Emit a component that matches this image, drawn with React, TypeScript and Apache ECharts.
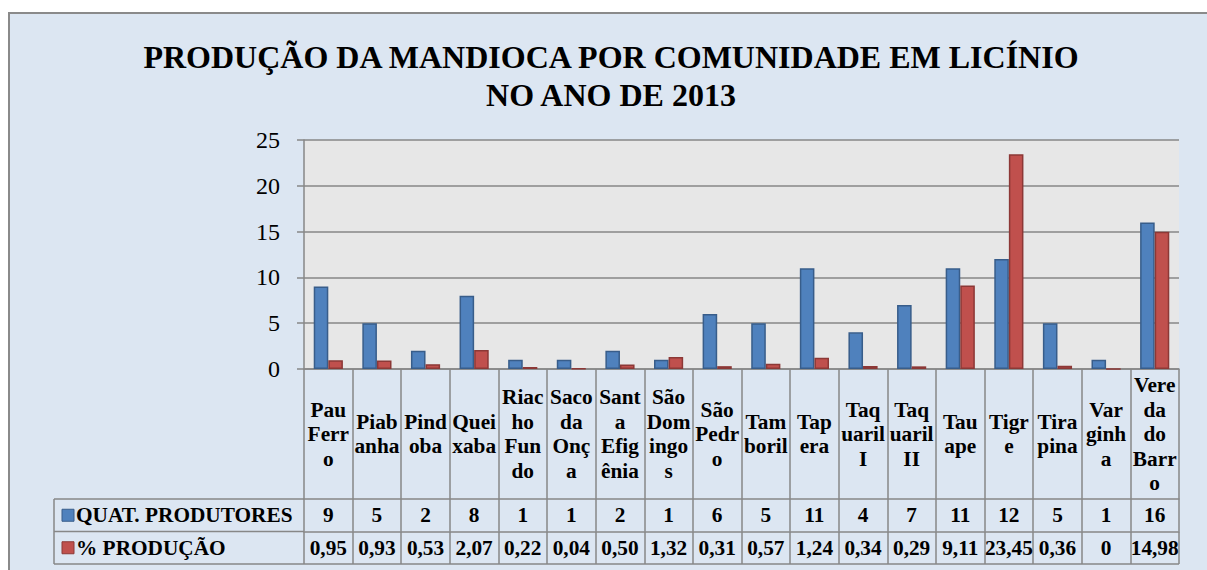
import React, { useEffect, useRef } from "react";
import * as echarts from "echarts";

const titleText = "PRODUÇÃO DA MANDIOCA POR COMUNIDADE EM LICÍNIO\nNO ANO DE 2013";

const categoryLabels = [
  "Pau\nFerr\no",
  "Piab\nanha",
  "Pind\noba",
  "Quei\nxaba",
  "Riac\nho\nFun\ndo",
  "Saco\nda\nOnç\na",
  "Sant\na\nEfig\nênia",
  "São\nDom\ningo\ns",
  "São\nPedr\no",
  "Tam\nboril",
  "Tap\nera",
  "Taq\nuaril\nI",
  "Taq\nuaril\nII",
  "Tau\nape",
  "Tigr\ne",
  "Tira\npina",
  "Var\nginh\na",
  "Vere\nda\ndo\nBarr\no",
];

const produtores = [9, 5, 2, 8, 1, 1, 2, 1, 6, 5, 11, 4, 7, 11, 12, 5, 1, 16];
const producao = [0.95, 0.93, 0.53, 2.07, 0.22, 0.04, 0.5, 1.32, 0.31, 0.57, 1.24, 0.34, 0.29, 9.11, 23.45, 0.36, 0, 14.98];

const seriesNames = ["QUAT. PRODUTORES", "% PRODUÇÃO"];

const FONT = "Times New Roman";
const GRIDC = "#878787";
const FS = 21.3;

const fmtPct = (v: number) => (v === 0 ? "0" : v.toFixed(2).replace(".", ","));

export default function App() {
  const ref = useRef<HTMLDivElement>(null);
  useEffect(() => {
    if (!ref.current) return;
    const chart = echarts.init(ref.current, null, { renderer: "svg" });
    const gLeft = 304;
    const gRight = 1179;
    const gTop = 140;
    const gBottom = 369;
    const labelRowH = 130;
    const rowH = 32.5;
    const tableLeft = 54;
    const r1 = gBottom + labelRowH;
    const r2 = r1 + rowH;
    const r3 = r2 + rowH;
    const lineStyle = { stroke: GRIDC, lineWidth: 1.5 };
    const tableAxis = (data: string[], offset: number) => ({
      type: "category",
      position: "bottom",
      offset,
      data,
      axisLine: { show: true, lineStyle: { color: GRIDC, width: 1.5 } },
      axisTick: { show: true, interval: 0, length: rowH, lineStyle: { color: GRIDC, width: 1.5 } },
      axisLabel: {
        interval: 0,
        margin: rowH / 2,
        verticalAlign: "middle",
        fontSize: FS,
        fontWeight: "bold",
        fontFamily: FONT,
        color: "#000",
      },
      splitLine: { show: false },
    });
    chart.setOption({
      animation: false,
      title: {
        text: titleText,
        left: 606,
        top: 33,
        textAlign: "center",
        textStyle: { fontSize: 32, fontWeight: "bold", lineHeight: 38, color: "#000", fontFamily: FONT },
      },
      grid: {
        left: gLeft,
        right: 1207 - gRight,
        top: gTop,
        bottom: 570 - gBottom,
        show: true,
        backgroundColor: "#e7e7e7",
        borderWidth: 0,
        outerBoundsMode: "none",
      },
      xAxis: [
        {
          type: "category",
          data: categoryLabels,
          axisLine: { show: true, lineStyle: { color: GRIDC, width: 1.5 } },
          axisTick: { show: true, interval: 0, length: labelRowH, lineStyle: { color: GRIDC, width: 1.5 } },
          axisLabel: {
            interval: 0,
            margin: labelRowH / 2,
            verticalAlign: "middle",
            fontSize: FS,
            fontWeight: "bold",
            lineHeight: 24.5,
            fontFamily: FONT,
            color: "#000",
          },
          splitLine: { show: false },
        },
        tableAxis(produtores.map(String), labelRowH),
        tableAxis(producao.map(fmtPct), labelRowH + rowH),
      ],
      yAxis: {
        type: "value",
        min: 0,
        max: 25,
        interval: 5,
        axisLine: { show: true, lineStyle: { color: GRIDC, width: 1.5 } },
        axisTick: { show: true, length: 7, lineStyle: { color: GRIDC, width: 1.5 } },
        axisLabel: { fontSize: 24, color: "#000", margin: 24, fontFamily: FONT },
        splitLine: { show: true, lineStyle: { color: GRIDC, width: 1.5 } },
      },
      series: [
        {
          name: seriesNames[0],
          type: "bar",
          data: produtores,
          barCategoryGap: "40%",
          barGap: "0%",
          itemStyle: { color: "#4f81bd", borderColor: "#385d8a", borderWidth: 1.5 },
        },
        {
          name: seriesNames[1],
          type: "bar",
          data: producao,
          barCategoryGap: "40%",
          barGap: "0%",
          itemStyle: { color: "#c0504d", borderColor: "#8c3836", borderWidth: 1.5 },
        },
      ],
      graphic: [
        { type: "line", shape: { x1: tableLeft, y1: r1, x2: gLeft, y2: r1 }, style: lineStyle },
        { type: "line", shape: { x1: tableLeft, y1: r2, x2: gLeft, y2: r2 }, style: lineStyle },
        { type: "line", shape: { x1: tableLeft, y1: r3, x2: gRight, y2: r3 }, style: lineStyle },
        { type: "line", shape: { x1: tableLeft, y1: r1, x2: tableLeft, y2: r3 }, style: lineStyle },
        {
          type: "rect",
          shape: { x: 62, y: r1 + rowH / 2 - 6, width: 12, height: 12 },
          style: { fill: "#4f81bd", stroke: "#385d8a", lineWidth: 1 },
        },
        {
          type: "rect",
          shape: { x: 62, y: r2 + rowH / 2 - 6, width: 12, height: 12 },
          style: { fill: "#c0504d", stroke: "#8c3836", lineWidth: 1 },
        },
        {
          type: "text",
          x: 76,
          y: r1 + rowH / 2,
          style: {
            text: seriesNames[0],
            fontSize: FS,
            fontWeight: "bold",
            fontFamily: FONT,
            fill: "#000",
            verticalAlign: "middle",
            align: "left",
          },
        },
        {
          type: "text",
          x: 76,
          y: r2 + rowH / 2,
          style: {
            text: seriesNames[1],
            fontSize: FS,
            fontWeight: "bold",
            fontFamily: FONT,
            fill: "#000",
            verticalAlign: "middle",
            align: "left",
          },
        },
      ],
    });
    return () => chart.dispose();
  }, []);

  return (
    <div style={{ position: "fixed", left: 0, top: 0, width: 1207, height: 570, overflow: "hidden", background: "#fff" }}>
      <div
        style={{
          position: "absolute",
          left: 8,
          top: 12,
          width: 1240,
          height: 600,
          background: "#dce6f2",
          border: "2px solid #8a8a8a",
        }}
      />
      <div ref={ref} style={{ position: "absolute", left: 0, top: 0, width: 1207, height: 570 }} />
    </div>
  );
}
